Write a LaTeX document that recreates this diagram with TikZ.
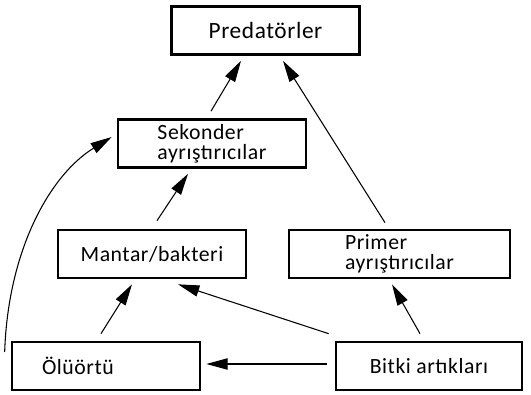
\documentclass[tikz,border=0pt]{standalone}
\usepackage{fontspec}
\setmainfont{Carlito}[LetterSpace=2.5]
\usetikzlibrary{arrows.meta, calc, positioning}

\begin{document}
\begin{tikzpicture}[
	x=0.75pt, y=-0.75pt,
	% units are pixels of the original figure
	box/.style={draw, line width=2pt, minimum width=141pt,
		minimum height=36pt, align=left, inner sep=3pt,
		font=\fontsize{16.3}{15}\selectfont},
	arr/.style={-{Triangle[length=16pt, width=8.5pt]}, line width=0.8pt}
	]
	\useasboundingbox (0,0) rectangle (531,395);
	\node[box, font=\fontsize{17.5}{18}\selectfont] (pred) at (265.5,30.5) {Predatörler};
	\node[box] (sek) at (212,143.5) {Sekonder\\ayrıştırıcılar};
	\node[box] (mant) at (152,254) {Mantar/bakteri};
	\node[box, minimum width=165.75pt] (prim) at (399.5,254) {Primer\\ayrıştırıcılar};
	\node[box, text width=96pt] (olu) at (106,366) {Ölüörtü};
	\node[box, minimum width=139.5pt] (bitki) at (429,366) {Bitki artıkları};
	% connectors
	\draw[arr] ($(sek.north)+(-1,-7)$) -- ($(pred.south)+(-24.5,5)$);
	\draw[arr] ($(prim.north)+(-14.5,-6)$) -- ($(pred.south)+(17.5,5)$);
	\draw[arr] ($(mant.north)+(5,-8)$) -- ($(sek.south)+(-24,5)$);
	\draw[arr] ($(olu.north)+(-5,-7)$) -- ($(mant.south)+(-20,5)$);
	\draw[arr] ($(bitki.north west)+(-6,-7)$) -- ($(mant.south)+(26,5)$);
	\draw[arr] ($(bitki.north)+(-9,-7)$) -- ($(prim.south)+(-7.5,5)$);
	\draw[arr] ($(bitki.west)+(-8,-2)$) -- ($(olu.east)+(5,-2)$);
	\draw[arr] ($(olu.west)+(-6,-14)$) .. controls (8,250) and (50,175) .. ($(sek.west)+(-5,-6.5)$);
\end{tikzpicture}
\end{document}
